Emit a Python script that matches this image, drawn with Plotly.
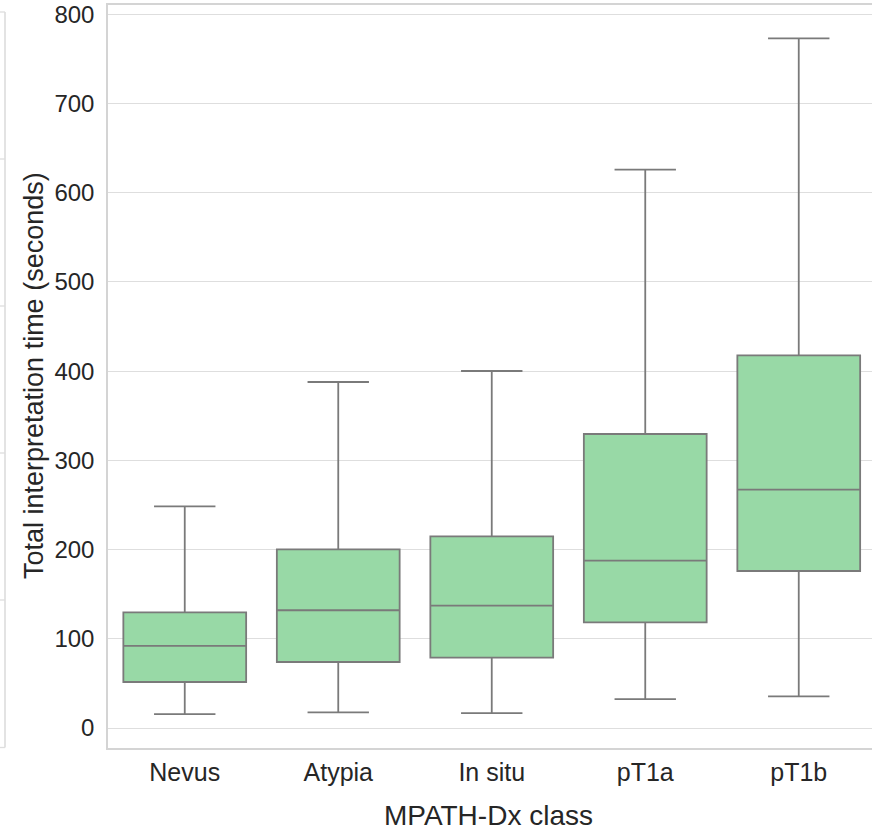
import plotly.graph_objects as go

# ---- data ----
categories = ["Nevus", "Atypia", "In situ", "pT1a", "pT1b"]
lower_whisker = [15.5, 17.6, 16.8, 32.5, 35.5]
q1_values = [51.6, 74.0, 78.9, 118.5, 176.0]
median_values = [92.0, 132.0, 137.2, 187.7, 267.3]
q3_values = [129.7, 200.3, 214.9, 329.6, 417.8]
upper_whisker = [248.5, 387.9, 400.2, 626.0, 773.0]
y_ticks = [0, 100, 200, 300, 400, 500, 600, 700, 800]

FONT = "Liberation Sans, Arial, sans-serif"
TEXT = "#262626"
GRID = "#dedede"
EDGE = "#d4d4d4"

W, H = 872, 832
ML, MR, MT, MB = 108, 0, 5, 84

fig = go.Figure()
fig.add_trace(go.Box(
    x=categories,
    q1=q1_values,
    median=median_values,
    q3=q3_values,
    lowerfence=lower_whisker,
    upperfence=upper_whisker,
    fillcolor="#98d9a6",
    line=dict(color="#7a7a7a", width=1.8),
    whiskerwidth=0.5,
    boxpoints=False,
    showlegend=False,
))

plot_w = W - ML - MR
plot_h = H - MT - MB

def px_x(p):
    return (p - ML) / plot_w

def px_y(p):
    return (H - MB - p) / plot_h

# remnants of the neighbouring panel on the left edge
shapes = [dict(type="line", xref="paper", yref="paper",
               x0=px_x(5), x1=px_x(5), y0=px_y(12), y1=px_y(747.5),
               line=dict(color=EDGE, width=1.3))]
for yy in [12, 159, 306, 453, 600, 747.5]:
    shapes.append(dict(type="line", xref="paper", yref="paper",
                       x0=px_x(0), x1=px_x(5), y0=px_y(yy), y1=px_y(yy),
                       line=dict(color=GRID, width=1.3)))

fig.update_layout(
    width=W, height=H,
    margin=dict(l=ML, r=MR, t=MT, b=MB, pad=0),
    paper_bgcolor="white",
    plot_bgcolor="white",
    font=dict(family=FONT, color=TEXT, size=24),
    boxgap=0.2,
    boxgroupgap=0,
    shapes=shapes,
    annotations=[
        dict(text="MPATH-Dx class", xref="paper", yref="paper",
             x=px_x(488), y=px_y(815), xanchor="center", yanchor="middle",
             showarrow=False, font=dict(size=28, color=TEXT, family=FONT)),
        dict(text="Total interpretation time (seconds)", xref="paper", yref="paper",
             x=px_x(34), y=px_y(376), xanchor="center", yanchor="middle",
             textangle=-90, showarrow=False,
             font=dict(size=27, color=TEXT, family=FONT)),
    ],
)

fig.update_xaxes(
    type="category",
    range=[-0.5, -0.5 + plot_w / 153.5],
    showgrid=False,
    showline=True, linecolor=EDGE, linewidth=1.5, mirror=True,
    ticks="", ticklabelstandoff=1,
    tickfont=dict(size=25, color=TEXT),
    zeroline=False,
)
fig.update_yaxes(
    range=[-22.4, 810.5],
    tickvals=y_ticks,
    showgrid=True, gridcolor=GRID, gridwidth=1.3,
    showline=True, linecolor=EDGE, linewidth=1.5, mirror=False,
    ticks="", ticklabelstandoff=7,
    tickfont=dict(size=24, color=TEXT),
    zeroline=False,
)

fig.write_html(
    "out.html",
    config={"displayModeBar": False},
    post_script="document.body.style.margin='0';document.body.style.overflow='hidden';",
)
